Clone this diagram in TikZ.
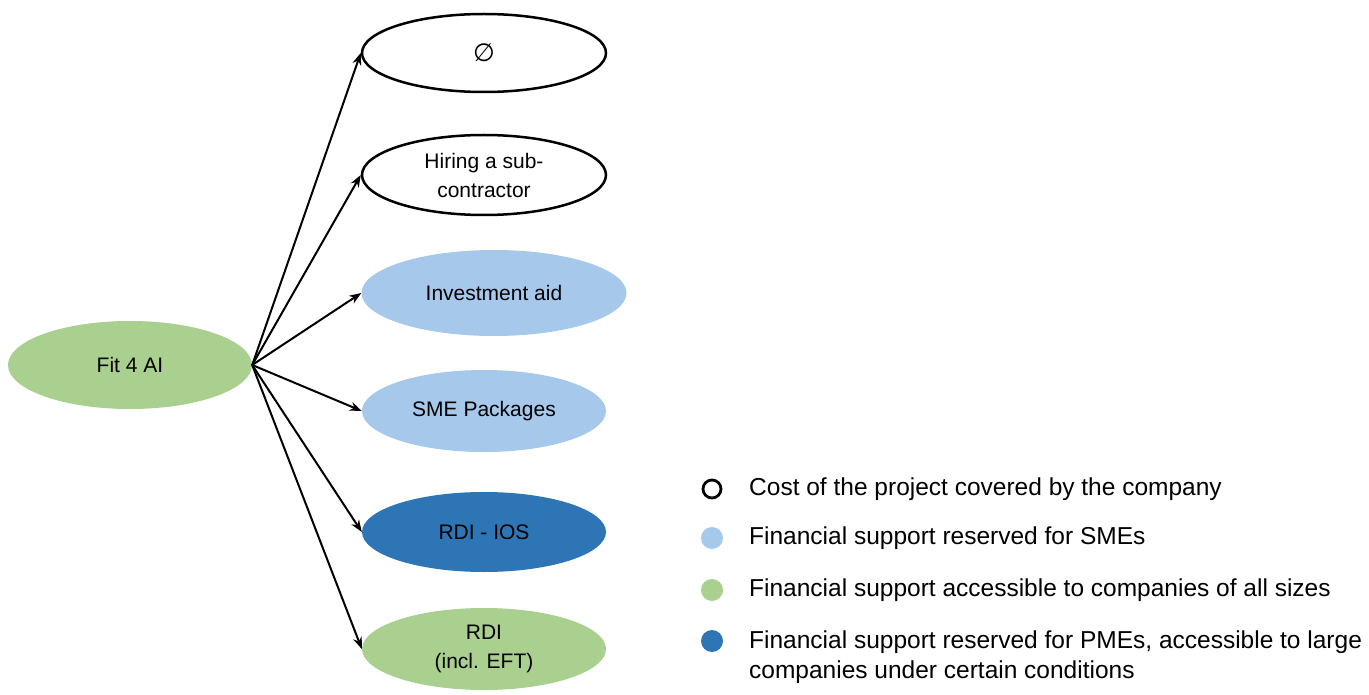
\documentclass[tikz,border=0pt]{standalone}
\usepackage{fontspec}
\setmainfont{Liberation Sans}
\newfontfamily\dejavu{DejaVu Sans}
\usetikzlibrary{shapes.geometric,arrows.meta}
\definecolor{lgreen}{HTML}{A9D08E}
\definecolor{lblue}{HTML}{A6C8EA}
\definecolor{dblue}{HTML}{2E75B6}
\tikzset{
  oval/.style={ellipse, inner sep=0pt, minimum width=244pt, minimum height=80pt, align=center,
    font=\fontsize{21}{29}\selectfont},
  whiteoval/.style={oval, draw=black, line width=2.5pt, fill=white},
  greenoval/.style={oval, fill=lgreen},
  lblueoval/.style={oval, fill=lblue},
  dblueoval/.style={oval, fill=dblue},
  conn/.style={-{Stealth[length=12pt,width=9pt]}, line width=2pt},
  legtext/.style={anchor=west, align=left, inner sep=0pt, font=\fontsize{24.5}{30}\selectfont},
  legdot/.style={circle, inner sep=0pt, minimum size=22pt},
}
\begin{document}
\begin{tikzpicture}[x=1pt,y=-1pt]
\useasboundingbox (0,0) rectangle (1369,695);
\node[greenoval, minimum width=244pt, minimum height=88pt] (fit) at (130,365) {Fit 4 AI};
\node[whiteoval, minimum height=78pt] (empty) at (484,53) {{\dejavu\fontsize{25}{25}\selectfont ∅}};
\node[whiteoval] (hire) at (484,175) {Hiring a sub-\\contractor};
\node[lblueoval, minimum width=265pt, minimum height=86pt] (inv) at (494,293) {Investment aid};
\node[lblueoval, minimum height=82pt] (sme) at (484,411) {SME Packages};
\node[dblueoval] (ios) at (484,532) {RDI - IOS};
\node[greenoval, minimum height=82pt] (rdi) at (484,649) {RDI\\(incl. EFT)};
\coordinate (src) at (fit.east);
\foreach \t in {empty,hire,inv,sme,ios,rdi}
  \draw[conn] (src) -- (\t.west);
% legend
\node[legdot, draw=black, line width=2.8pt, minimum size=18pt] (d1) at (712,489) {};
\node[legdot, fill=lblue] (d2) at (712,538) {};
\node[legdot, fill=lgreen] (d3) at (712,590) {};
\node[legdot, fill=dblue] (d4) at (712,641) {};
\node[legtext] (t1) at (749,489) {Cost of the project covered by the company};
\node[legtext] (t2) at (749,538) {Financial support reserved for SMEs};
\node[legtext] (t3) at (749,590) {Financial support accessible to companies of all sizes};
\node[legtext, anchor=north west] (t4) at (749,631) {Financial support reserved for PMEs, accessible to large\\companies under certain conditions};
\end{tikzpicture}
\end{document}
